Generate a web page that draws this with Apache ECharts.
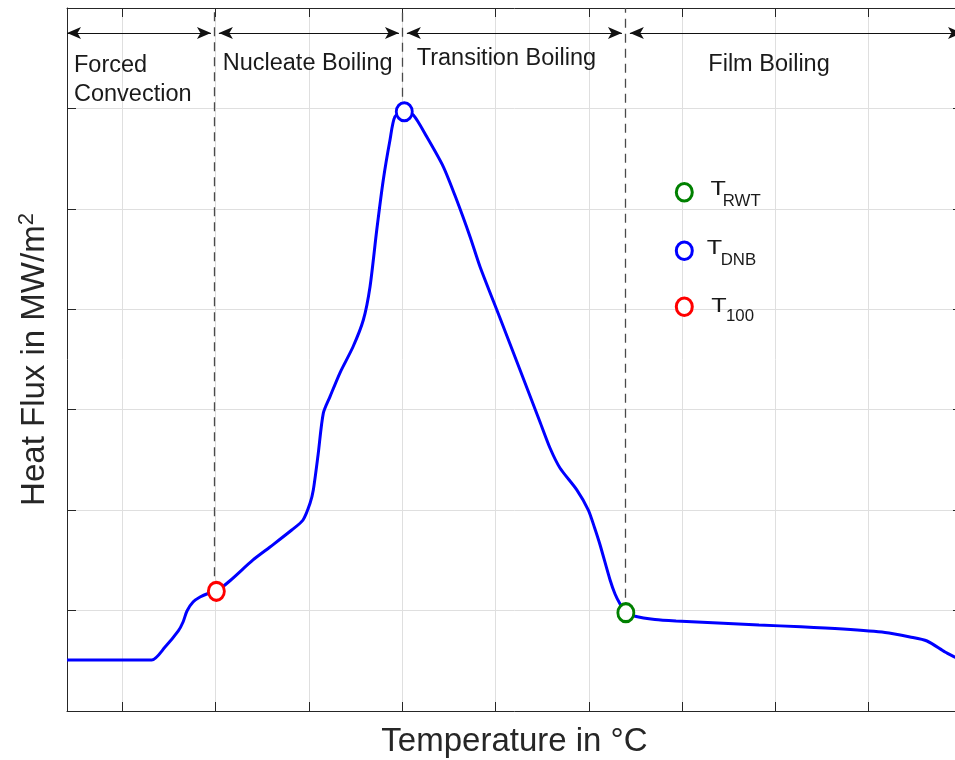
<!DOCTYPE html>
<html>
<head>
<meta charset="utf-8">
<title>Boiling curve</title>
<script src="https://cdn.jsdelivr.net/npm/echarts@6/dist/echarts.min.js"></script>
<style>
  html, body { margin: 0; padding: 0; background: #ffffff; overflow: hidden; }
  #chart { width: 962px; height: 760px; }
</style>
</head>
<body>
<div id="chart"></div>
<script>
// Boiling curve: wall temperature (x, arbitrary units) vs heat flux (y)
const tempX = [
  0.407, 1.315, 1.458, 1.600, 1.651, 1.693, 1.758, 1.833, 1.919, 2.008,
  2.154, 2.401, 2.583, 2.816, 2.937, 3.012, 3.047, 3.098, 3.154, 3.226,
  3.333, 3.473, 3.583, 3.655, 3.727, 3.797, 3.869, 3.922, 4.022, 4.119,
  4.263, 4.441, 4.584, 4.727, 4.834, 5.048, 5.263, 5.477, 5.584, 5.691,
  5.873, 5.995, 6.060, 6.121, 6.228, 6.281, 6.335, 6.397, 6.484, 6.709,
  6.935, 7.385, 7.824, 8.274, 8.725, 9.175, 9.443, 9.625, 9.818, 9.925,
  10.0
];
const heatFlux = [
  0.508, 0.508, 0.637, 0.797, 0.886, 0.996, 1.085, 1.135, 1.170, 1.192,
  1.297, 1.504, 1.633, 1.802, 1.902, 2.068, 2.200, 2.549, 2.964, 3.130,
  3.368, 3.627, 3.893, 4.225, 4.789, 5.287, 5.685, 5.918, 5.967, 5.934,
  5.718, 5.419, 5.088, 4.723, 4.424, 3.913, 3.395, 2.878, 2.619, 2.420,
  2.200, 2.001, 1.830, 1.653, 1.304, 1.165, 1.065, 0.979, 0.946, 0.911,
  0.896, 0.876, 0.856, 0.839, 0.816, 0.782, 0.737, 0.697, 0.587, 0.535,
  0.498
];

// Characteristic temperatures marked on the curve
const markerX = [2.008, 4.022, 6.397];
const markerY = [1.192, 5.967, 0.979];
const markerColors = ['#ff0000', '#0000ff', '#008000'];

// Regime boundaries and regime names
const regionEdges = [1.985, 4.0, 6.39];
const regionNames = ['Forced\nConvection', 'Nucleate Boiling', 'Transition Boiling', 'Film Boiling'];

// Legend entries: main letter and subscript
const legendMain = ['T', 'T', 'T'];
const legendSub = ['RWT', 'DNB', '100'];
const legendColors = ['#008000', '#0000ff', '#ff0000'];

const X_MIN = 0.407, X_MAX = 10, Y_MIN = 0, Y_MAX = 7;
const ARROW_Y = 6.75;

const FONT = '"Liberation Sans", Arial, Helvetica, sans-serif';
const AXIS_COLOR = '#262626';
const GRID_COLOR = '#dfdfdf';

const chart = echarts.init(document.getElementById('chart'), null, { renderer: 'canvas' });

const curve = tempX.map((x, i) => [x, heatFlux[i]]);

// dashed boundary lines from each marker up to the top of the plot
const boundaryLines = regionEdges.map((x, i) => [
  { coord: [x, markerY[i]] },
  { coord: [x, Y_MAX] }
]);

// double arrows spanning each regime
const starts = [X_MIN].concat(regionEdges.map(e => e + 0.05));
const ends = regionEdges.map(e => e - 0.035).concat([X_MAX]);
const arrowLines = starts.map((s, i) => [
  { coord: [s, ARROW_Y] },
  { coord: [ends[i], ARROW_Y] }
]);

const tickCommon = {
  axisLine: { show: true, onZero: false, lineStyle: { color: AXIS_COLOR, width: 1 } },
  axisTick: { show: true, inside: true, length: 9, lineStyle: { color: AXIS_COLOR, width: 1 } },
  axisLabel: { show: false }
};

const option = {
  animation: false,
  backgroundColor: '#ffffff',
  grid: { left: 67, top: 8, right: 0, bottom: 49, containLabel: false, outerBoundsMode: 'none' },
  xAxis: [
    Object.assign({
      type: 'value', min: X_MIN, max: X_MAX, minInterval: 1, maxInterval: 1, splitNumber: 10,
      position: 'bottom',
      splitLine: { show: true, lineStyle: { color: GRID_COLOR, width: 1 } },
      name: 'Temperature in °C', nameLocation: 'middle', nameGap: 14,
      nameTextStyle: { fontFamily: FONT, fontSize: 33, color: AXIS_COLOR, verticalAlign: 'top' }
    }, tickCommon),
    Object.assign({
      type: 'value', min: X_MIN, max: X_MAX, minInterval: 1, maxInterval: 1, splitNumber: 10,
      position: 'top', splitLine: { show: false }
    }, tickCommon)
  ],
  yAxis: [
    Object.assign({
      type: 'value', min: Y_MIN, max: Y_MAX, interval: 1, position: 'left',
      splitLine: { show: true, lineStyle: { color: GRID_COLOR, width: 1 } },
      name: '{b|Heat Flux in MW/m}{s|2}', nameLocation: 'middle', nameRotate: 90, nameGap: 14,
      nameTextStyle: {
        color: AXIS_COLOR,
        rich: {
          b: { fontFamily: FONT, fontSize: 33, lineHeight: 37, color: AXIS_COLOR },
          s: { fontFamily: FONT, fontSize: 22, lineHeight: 22, color: AXIS_COLOR, verticalAlign: 'top' }
        }
      }
    }, tickCommon),
    Object.assign({
      type: 'value', min: Y_MIN, max: Y_MAX, interval: 1, position: 'right', splitLine: { show: false }
    }, tickCommon)
  ],
  series: [
    {
      name: 'boundaries', type: 'line', data: [], silent: true,
      markLine: {
        silent: true, symbol: ['none', 'none'], animation: false,
        label: { show: false },
        lineStyle: { color: '#4a4a4a', width: 1.3, type: [9, 6] },
        data: boundaryLines
      },
      z: 3
    },
    {
      name: 'regimes', type: 'line', data: [], silent: true,
      markLine: {
        silent: true, symbol: ['arrow', 'arrow'], symbolSize: [9, 14], animation: false,
        label: { show: false },
        lineStyle: { color: '#111111', width: 1.2, type: 'solid' },
        emphasis: { disabled: true },
        data: arrowLines
      },
      z: 3
    },
    {
      name: 'heat flux', type: 'line', data: curve,
      showSymbol: false, smooth: 0.25,
      lineStyle: { color: '#0000ff', width: 3 },
      z: 4
    },
    {
      name: 'markers', type: 'scatter',
      data: markerX.map((x, i) => ({
        value: [x, markerY[i]],
        itemStyle: { color: '#ffffff', borderColor: markerColors[i], borderWidth: 3, opacity: 1 }
      })),
      symbol: 'circle', symbolSize: [16, 18],
      itemStyle: { opacity: 1 },
      z: 5
    }
  ],
  graphic: []
};

// regime captions
const regionLayout = [
  { x: 74, y: 65.5, lineHeight: 29 },
  { x: 222.7, y: 63.3 },
  { x: 416.7, y: 58.3 },
  { x: 708.3, y: 64.7 }
];
regionNames.forEach((name, i) => {
  const L = regionLayout[i];
  const lines = name.split('\n');
  lines.forEach((t, j) => {
    option.graphic.push({
      type: 'text', silent: true, z: 10,
      x: L.x, y: L.y + j * (L.lineHeight || 0),
      style: { text: t, fontFamily: FONT, fontSize: 23.5, fill: '#1a1a1a', align: 'left', verticalAlign: 'middle' }
    });
  });
});

// manual legend
const legendLayout = [
  { cy: 192.3, tx: 710.5, ty: 188.8, sx: 722.7, sy: 201.5 },
  { cy: 250.7, tx: 706.7, ty: 248.3, sx: 720.7, sy: 261 },
  { cy: 306.7, tx: 711.2, ty: 305.8, sx: 726, sy: 316.5 }
];
legendLayout.forEach((L, i) => {
  option.graphic.push({
    type: 'ellipse', silent: true, z: 10,
    shape: { cx: 684.3, cy: L.cy, rx: 8, ry: 8.8 },
    style: { fill: '#ffffff', stroke: legendColors[i], lineWidth: 3 }
  });
  option.graphic.push({
    type: 'text', silent: true, z: 10, x: L.tx, y: L.ty, scaleX: 1.2,
    style: { text: legendMain[i], fontFamily: FONT, fontSize: 21, fill: '#1a1a1a', align: 'left', verticalAlign: 'middle' }
  });
  option.graphic.push({
    type: 'text', silent: true, z: 10, x: L.sx, y: L.sy, scaleX: 1.05,
    style: { text: legendSub[i], fontFamily: FONT, fontSize: 16, fill: '#1a1a1a', align: 'left', verticalAlign: 'middle' }
  });
});

chart.setOption(option);
</script>
</body>
</html>
